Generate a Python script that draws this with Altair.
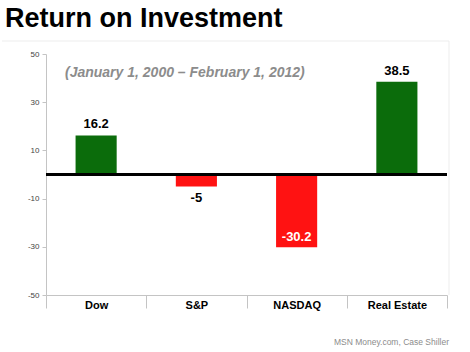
import altair as alt
import pandas as pd

categories = ["Dow", "S&P", "NASDAQ", "Real Estate"]
returns = [16.2, -5, -30.2, 38.5]
y_ticks = [-50, -30, -10, 10, 30, 50]
title_text = "Return on Investment"
subtitle_text = "(January 1, 2000 \u2013 February 1, 2012)"
source_text = "MSN Money.com, Case Shiller"

df = pd.DataFrame({"category": categories, "value": returns})
FONT = "Liberation Sans"

x_enc = alt.X(
    "category:N",
    sort=categories,
    scale=alt.Scale(paddingInner=0, paddingOuter=0),
    axis=alt.Axis(
        title=None, labelAngle=0, labelFont=FONT, labelFontWeight="bold",
        labelFontSize=11, labelColor="black", labelPadding=-9,
        domainColor="#c4c4c4", tickColor="#c4c4c4", tickSize=13,
        tickBand="extent",
    ),
)
y_enc = alt.Y(
    "value:Q",
    scale=alt.Scale(domain=[-50, 50], nice=False, zero=False),
    axis=alt.Axis(
        title=None, values=y_ticks, grid=False, labelFont=FONT,
        labelFontSize=8, labelColor="#444444", tickSize=4, labelPadding=3,
        domainColor="#c4c4c4", tickColor="#c4c4c4",
        labelExpr="datum.value + ''",
    ),
)

base = alt.Chart(df).transform_calculate(label="datum.value + ''")
xs = alt.X("category:N", sort=categories)

bars = base.mark_bar(width=alt.RelativeBandSize(0.41)).encode(
    x=x_enc,
    y=y_enc,
    color=alt.condition("datum.value > 0", alt.value("#0b6c0b"), alt.value("#ff1212")),
)

lab_pos = base.transform_filter("datum.value > 0").mark_text(
    baseline="bottom", dy=-4, font=FONT, fontWeight="bold", fontSize=13, color="black"
).encode(x=xs, y="value:Q", text="label:N")

lab_neg = base.transform_filter("datum.value <= 0 && datum.value > -20").mark_text(
    baseline="top", dy=5, font=FONT, fontWeight="bold", fontSize=13, color="black"
).encode(x=xs, y="value:Q", text="label:N")

lab_in = base.transform_filter("datum.value <= -20").mark_text(
    baseline="bottom", dy=-3, font=FONT, fontWeight="bold", fontSize=13, color="white"
).encode(x=xs, y="value:Q", text="label:N")

zero = alt.Chart(pd.DataFrame({"z": [0]})).mark_rule(color="black", strokeWidth=3).encode(
    y=alt.datum(0)
)

frame_top = alt.Chart(pd.DataFrame({"a": [0]})).mark_rule(color="#ededed", strokeWidth=1).encode(
    x=alt.value(-44), x2=alt.value(403), y=alt.value(-13)
)
frame_right = alt.Chart(pd.DataFrame({"a": [0]})).mark_rule(color="#ededed", strokeWidth=1).encode(
    x=alt.value(403), y=alt.value(-13), y2=alt.value(241)
)

title = alt.Chart(pd.DataFrame({"t": [title_text]})).mark_text(
    align="left", baseline="alphabetic", font=FONT, fontWeight="bold", fontSize=27, color="black"
).encode(text="t:N", x=alt.value(-41), y=alt.value(-27))

subtitle = alt.Chart(pd.DataFrame({"t": [subtitle_text]})).mark_text(
    align="left", baseline="middle", font=FONT, fontWeight="bold", fontStyle="italic",
    fontSize=14, color="#8c8c8c"
).encode(text="t:N", x=alt.value(19), y=alt.value(19))

source = alt.Chart(pd.DataFrame({"t": [source_text]})).mark_text(
    align="right", baseline="alphabetic", font=FONT, fontSize=8.5, color="#8c8c8c"
).encode(text="t:N", x=alt.value(403), y=alt.value(291))

chart = alt.layer(
    frame_top, frame_right, bars, zero, lab_pos, lab_neg, lab_in, title, subtitle, source
).properties(
    width=401,
    height=241,
    padding={"left": 46, "top": 54, "right": 23, "bottom": 57},
    autosize="none",
    background="white",
).configure_view(stroke=None)

chart.save("out.html", embed_options={"renderer": "svg", "actions": False})
